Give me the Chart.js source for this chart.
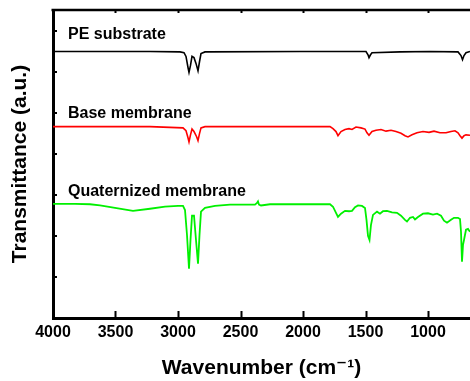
<!DOCTYPE html>
<html>
<head>
<meta charset="utf-8">
<script src="https://cdn.jsdelivr.net/npm/chart.js@4"></script>
<style>
  body { margin: 0; background: #fff; overflow: hidden; }
</style>
</head>
<body>
<canvas id="ftir" width="470" height="381"></canvas>
<script>
// wavenumbers (cm-1) and transmittance (offset, a.u.)
let peWn = [4000, 3224, 2984, 2952, 2936, 2920, 2912, 2900, 2888, 2872, 2856, 2840, 2828, 2816, 2784, 2024,
  1496, 1480, 1472, 1460, 1448, 1224, 984, 760, 736, 724, 712, 696, 664]
let peT = [6.49, 6.49, 6.48, 6.46, 6.37, 6.10, 5.98, 6.15, 6.37, 6.34, 6.20, 6.02, 6.24, 6.44, 6.48, 6.49,
  6.49, 6.41, 6.34, 6.41, 6.46, 6.48, 6.49, 6.48, 6.39, 6.29, 6.39, 6.46, 6.49]

let baseWn = [4000, 3224, 2960, 2936, 2920, 2912, 2900, 2888, 2872, 2852, 2840, 2828, 2816, 2784, 2024, 1784,
  1760, 1736, 1720, 1696, 1664, 1632, 1608, 1576, 1536, 1504, 1488, 1472, 1448, 1416, 1376, 1336, 1296, 1256,
  1216, 1184, 1160, 1128, 1088, 1040, 992, 952, 904, 856, 816, 784, 760, 744, 728, 712, 696, 664]
let baseT = [4.66, 4.66, 4.63, 4.56, 4.39, 4.29, 4.46, 4.60, 4.54, 4.42, 4.32, 4.49, 4.63, 4.66, 4.66, 4.66,
  4.61, 4.54, 4.44, 4.54, 4.59, 4.61, 4.59, 4.65, 4.63, 4.60, 4.51, 4.45, 4.54, 4.57, 4.59, 4.55, 4.57, 4.54,
  4.50, 4.44, 4.41, 4.46, 4.51, 4.54, 4.52, 4.55, 4.51, 4.51, 4.54, 4.56, 4.51, 4.44, 4.38, 4.44, 4.46, 4.45]

let quatWn = [4000, 3824, 3704, 3624, 3504, 3360, 3224, 3104, 3000, 2960, 2944, 2928, 2912, 2900, 2888, 2872,
  2856, 2840, 2828, 2816, 2784, 2704, 2584, 2384, 2368, 2360, 2352, 2336, 2264, 2024, 1784, 1760, 1736, 1720,
  1696, 1664, 1632, 1608, 1584, 1560, 1528, 1504, 1492, 1480, 1468, 1456, 1440, 1408, 1384, 1360, 1328, 1288,
  1248, 1216, 1184, 1168, 1144, 1120, 1104, 1080, 1040, 1000, 960, 928, 896, 872, 848, 816, 792, 760, 744,
  736, 728, 720, 712, 696, 680, 664]
let quatT = [2.78, 2.78, 2.77, 2.74, 2.68, 2.61, 2.66, 2.71, 2.73, 2.73, 2.63, 2.02, 1.20, 1.90, 2.49, 2.49,
  1.90, 1.32, 2.02, 2.59, 2.68, 2.73, 2.76, 2.76, 2.80, 2.84, 2.76, 2.74, 2.77, 2.77, 2.77, 2.71, 2.56, 2.46,
  2.54, 2.61, 2.60, 2.61, 2.70, 2.74, 2.73, 2.68, 2.39, 2.00, 1.90, 2.27, 2.51, 2.59, 2.54, 2.60, 2.61, 2.57,
  2.56, 2.49, 2.39, 2.35, 2.44, 2.46, 2.40, 2.46, 2.54, 2.55, 2.52, 2.54, 2.49, 2.37, 2.32, 2.39, 2.44, 2.44, 2.41,
  2.10, 1.37, 1.78, 1.90, 2.15, 2.17, 2.10]

let seriesNames = ['PE substrate', 'Base membrane', 'Quaternized membrane']
let seriesColors = ['#000000', '#ff0000', '#00f000']
let labelY = [6.80, 4.88, 2.98] // baseline of each curve's caption
let labelX = 3880

let xTicks = [4000, 3500, 3000, 2500, 2000, 1500, 1000]

const FONT = '"Liberation Sans", Arial, "DejaVu Sans", sans-serif'

function toPoints(wn, t) {
  return wn.map((w, i) => ({ x: w, y: t[i] }))
}

// frame top line, inward tick marks and the captions
const framePlugin = {
  id: 'frame',
  afterDraw(chart) {
    const c = chart.ctx
    const a = chart.chartArea
    const sx = chart.scales.x
    const sy = chart.scales.y
    c.save()
    c.strokeStyle = '#000'
    c.lineWidth = 2.5
    c.beginPath()
    c.moveTo(a.left - 1.5, a.top)
    c.lineTo(a.right, a.top)
    c.stroke()

    c.lineWidth = 2
    c.beginPath()
    sx.ticks.forEach(t => {
      const px = Math.round(sx.getPixelForValue(t.value)) + 0.5
      if (t.value === 4000) return
      c.moveTo(px, a.bottom)
      c.lineTo(px, a.bottom - 7)
      c.moveTo(px, a.top)
      c.lineTo(px, a.top + 3)
    })
    sy.ticks.forEach(t => {
      if (t.value === 0 || t.value > 7) return
      const py = Math.round(sy.getPixelForValue(t.value))
      c.moveTo(a.left, py)
      c.lineTo(a.left + 4, py)
    })
    c.stroke()

    c.fillStyle = '#000'
    c.font = 'bold 16px ' + FONT
    c.textAlign = 'left'
    c.textBaseline = 'alphabetic'
    seriesNames.forEach((n, i) => {
      c.fillText(n, sx.getPixelForValue(labelX), sy.getPixelForValue(labelY[i]))
    })
    c.restore()
  }
}

const ctx = document.getElementById('ftir').getContext('2d')

let chart = new Chart(ctx, {
  type: 'line',
  data: {
    datasets: [
      { label: seriesNames[0], data: toPoints(peWn, peT), borderColor: seriesColors[0], borderWidth: 1.6 },
      { label: seriesNames[1], data: toPoints(baseWn, baseT), borderColor: seriesColors[1], borderWidth: 1.6 },
      { label: seriesNames[2], data: toPoints(quatWn, quatT), borderColor: seriesColors[2], borderWidth: 1.8 }
    ]
  },
  options: {
    responsive: false,
    animation: false,
    devicePixelRatio: 1,
    elements: { point: { radius: 0 }, line: { tension: 0 } },
    layout: { padding: { left: 4, top: 10, right: 0, bottom: 0 } },
    plugins: { legend: { display: false }, tooltip: { enabled: false } },
    scales: {
      x: {
        type: 'linear',
        reverse: true,
        min: 664,
        max: 4000,
        afterBuildTicks: s => { s.ticks = xTicks.map(v => ({ value: v })) },
        afterFit: s => { s.height = 63 },
        grid: { display: false, drawTicks: false, tickLength: 0 },
        border: { display: true, width: 3, color: '#000' },
        ticks: {
          color: '#000',
          padding: 5,
          maxRotation: 0,
          autoSkip: false,
          callback: v => String(v),
          font: { family: FONT, size: 16, weight: 'bold' }
        },
        title: {
          display: true,
          text: 'Wavenumber (cm\u207B\u00B9)',
          color: '#000',
          padding: { top: 6, bottom: 0 },
          font: { family: FONT, size: 21, weight: 'bold' }
        }
      },
      y: {
        min: 0,
        max: 7.5,
        afterFit: s => { s.width = 49 },
        ticks: { display: false, stepSize: 1 },
        grid: { display: false, drawTicks: false, tickLength: 0 },
        border: { display: true, width: 3, color: '#000' },
        title: {
          display: true,
          text: 'Transmittance (a.u.)',
          color: '#000',
          padding: { top: 4, bottom: 19 },
          font: { family: FONT, size: 21, weight: 'bold' }
        }
      }
    }
  },
  plugins: [framePlugin]
})
</script>
</body>
</html>
